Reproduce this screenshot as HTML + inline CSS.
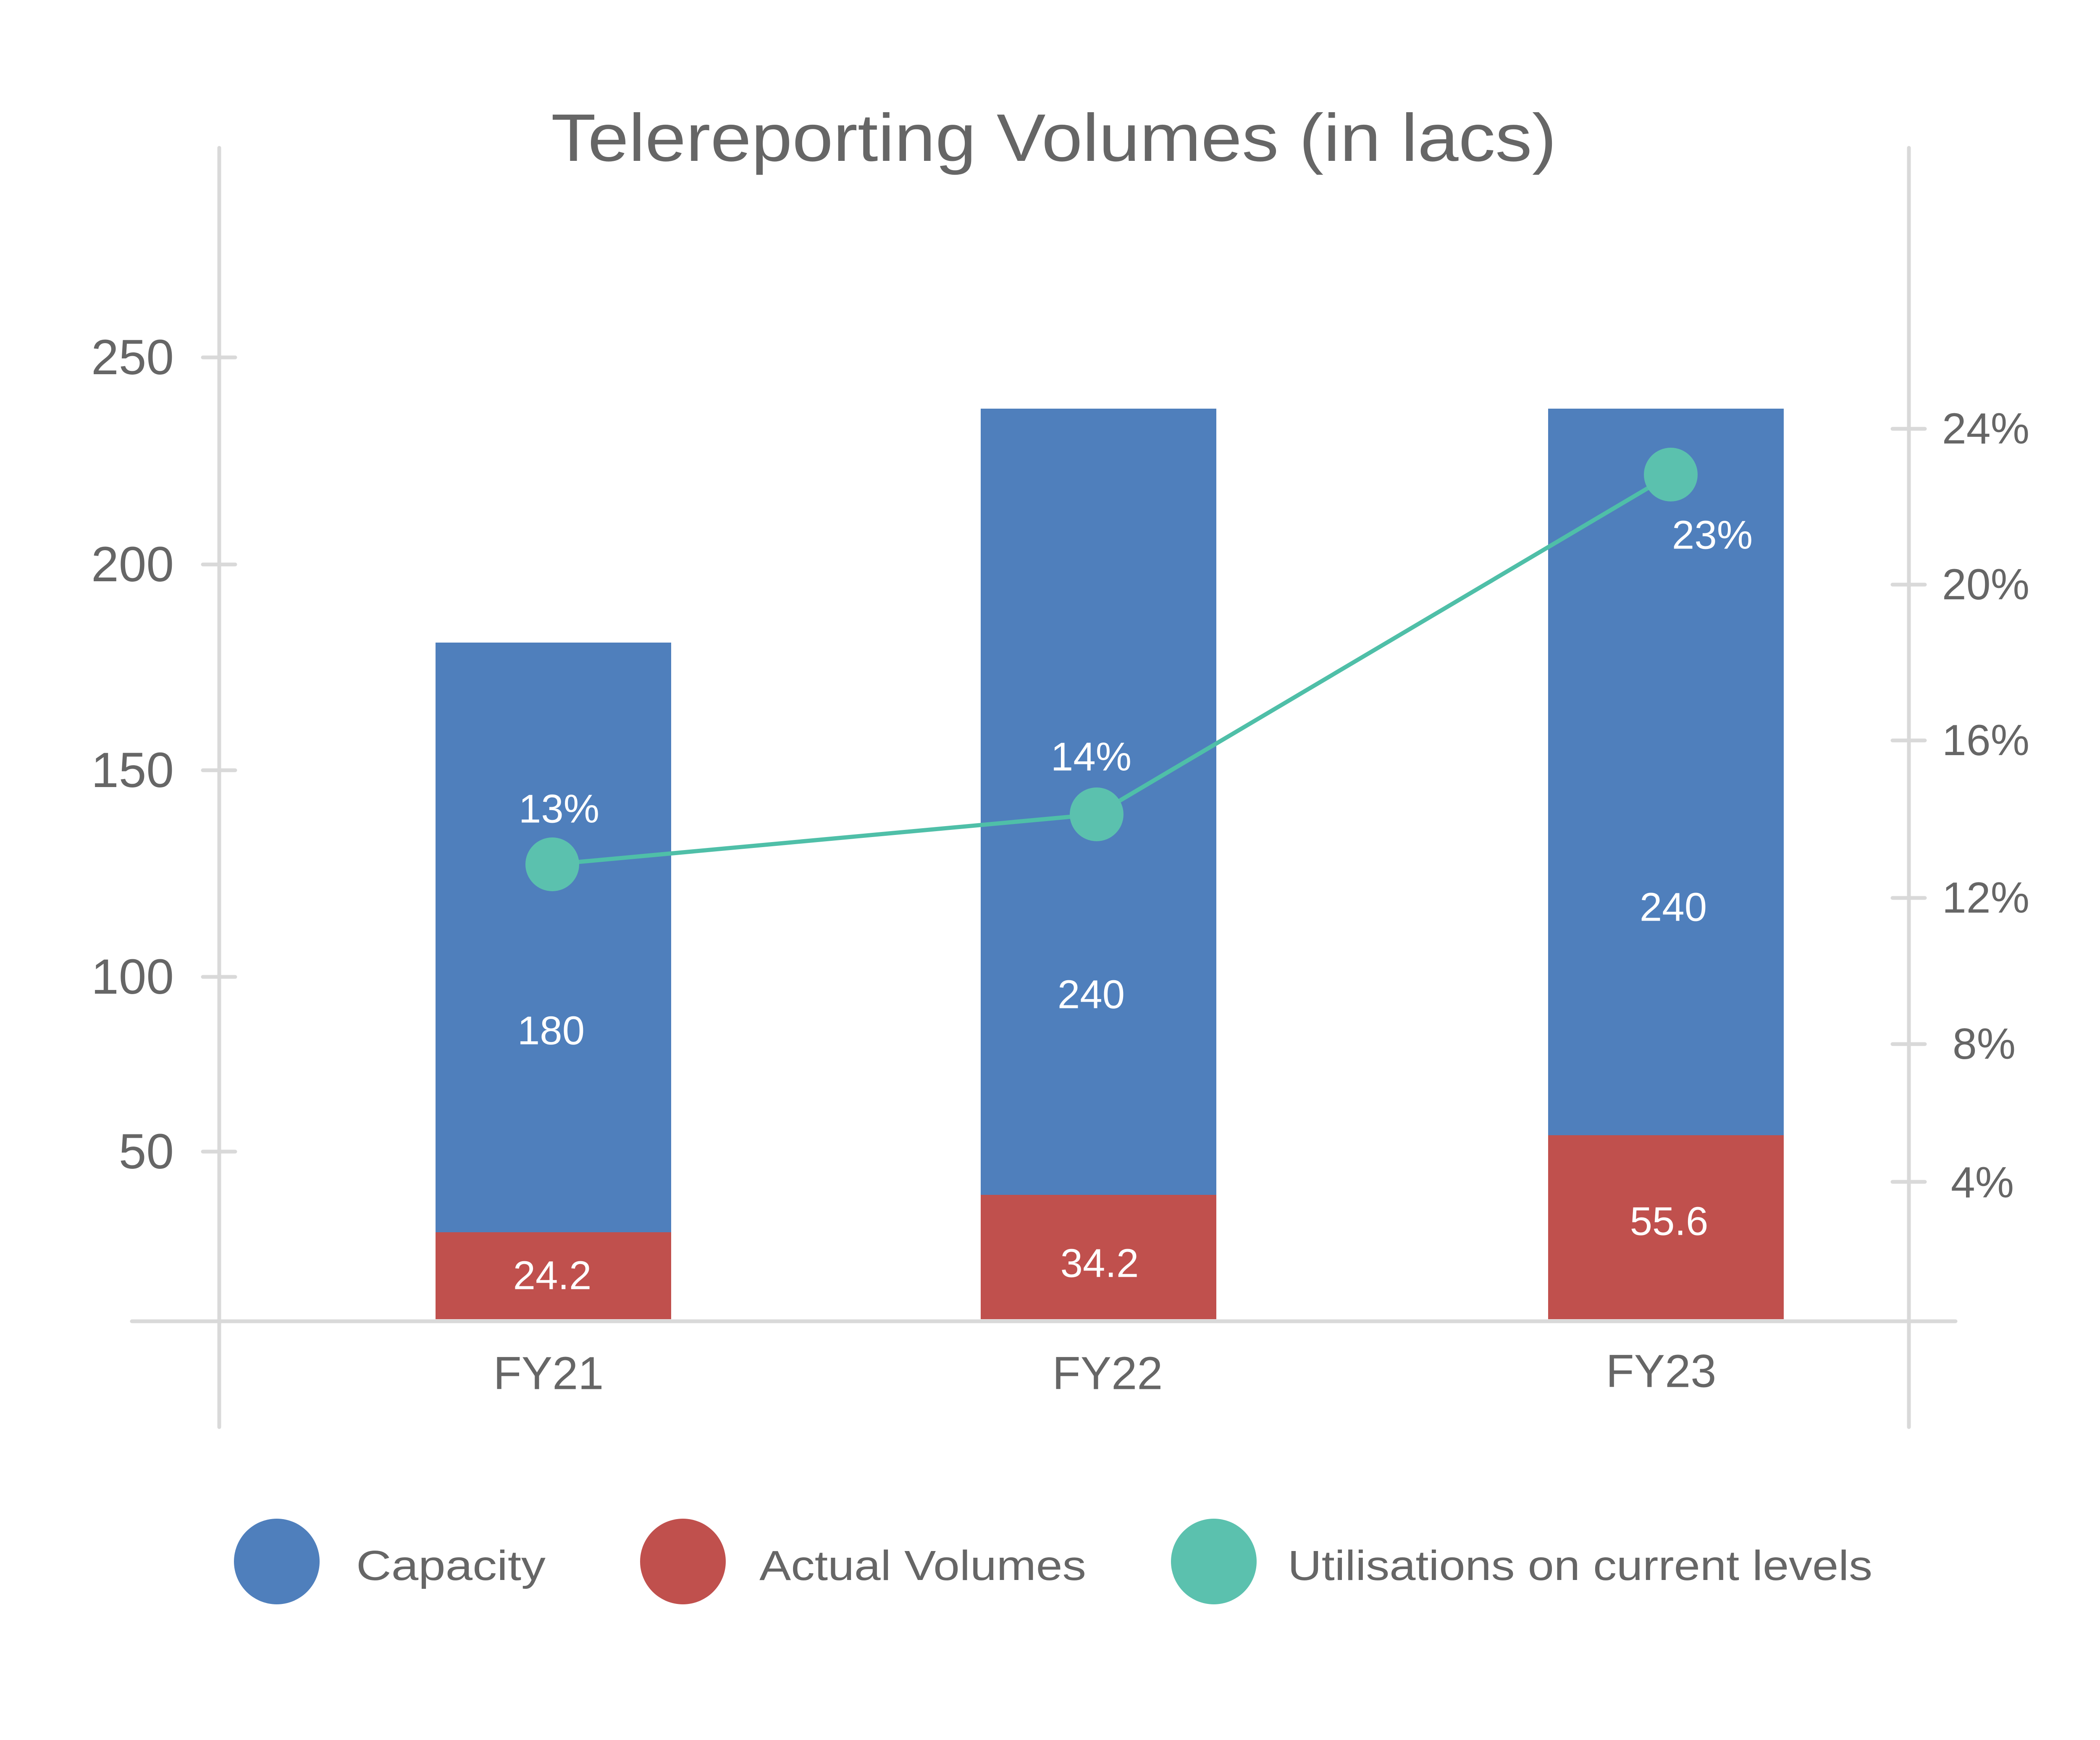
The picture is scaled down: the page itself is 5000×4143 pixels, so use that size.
<!DOCTYPE html>
<html><head><meta charset="utf-8"><style>html,body{margin:0;padding:0;background:#fff}svg{display:block}</style></head>
<body>
<svg width="5000" height="4143" viewBox="0 0 5000 4143" xmlns="http://www.w3.org/2000/svg" font-family="'Liberation Sans', sans-serif">
<rect width="5000" height="4143" fill="#fff"/>
<text x="2509" y="383" font-size="160" fill="#666" text-anchor="middle" textLength="2394" lengthAdjust="spacingAndGlyphs">Telereporting Volumes  (in lacs)</text>
<g stroke="#d9d9d9" stroke-width="9" stroke-linecap="round">
<line x1="522" y1="352" x2="522" y2="3398"/>
<line x1="4545" y1="352" x2="4545" y2="3398"/>
<line x1="314" y1="3146" x2="4656" y2="3146"/>
<line x1="483" y1="851" x2="560" y2="851"/>
<line x1="483" y1="1344" x2="560" y2="1344"/>
<line x1="483" y1="1834" x2="560" y2="1834"/>
<line x1="483" y1="2326" x2="560" y2="2326"/>
<line x1="483" y1="2742" x2="560" y2="2742"/>
<line x1="4506" y1="1021" x2="4583" y2="1021"/>
<line x1="4506" y1="1392" x2="4583" y2="1392"/>
<line x1="4506" y1="1763" x2="4583" y2="1763"/>
<line x1="4506" y1="2138" x2="4583" y2="2138"/>
<line x1="4506" y1="2486" x2="4583" y2="2486"/>
<line x1="4506" y1="2814" x2="4583" y2="2814"/>
</g>
<g font-size="118" fill="#666" text-anchor="end" dominant-baseline="central">
<text x="414" y="851">250</text><text x="414" y="1344">200</text><text x="414" y="1834">150</text><text x="414" y="2326">100</text><text x="414" y="2742">50</text>
</g>
<g font-size="104" fill="#666" text-anchor="middle" dominant-baseline="central">
<text x="4728" y="1021">24%</text><text x="4728" y="1392">20%</text><text x="4728" y="1763">16%</text><text x="4728" y="2138">12%</text><text x="4724" y="2486">8%</text><text x="4720" y="2816">4%</text>
</g>
<rect x="1037" y="1530" width="561" height="1404" fill="#4f7fbc"/>
<rect x="1037" y="2934" width="561" height="207" fill="#c0504d"/>
<rect x="2335" y="973" width="561" height="1872" fill="#4f7fbc"/>
<rect x="2335" y="2845" width="561" height="296" fill="#c0504d"/>
<rect x="3686" y="973" width="561" height="1730" fill="#4f7fbc"/>
<rect x="3686" y="2703" width="561" height="438" fill="#c0504d"/>
<g font-size="96" fill="#fff" text-anchor="middle" dominant-baseline="central">
<text x="1312" y="2454">180</text><text x="1315" y="3037">24.2</text>
<text x="2598" y="2368">240</text><text x="2618" y="3008">34.2</text>
<text x="3984" y="2160">240</text><text x="3974" y="2908">55.6</text>
<text x="1331" y="1926">13%</text><text x="2598" y="1802">14%</text><text x="4077" y="1274">23%</text>
</g>
<polyline points="1315,2058 2611,1939 3978,1130" fill="none" stroke="#4fbfa8" stroke-width="10"/>
<g fill="#5bc1ae">
<circle cx="1315" cy="2058" r="64"/><circle cx="2611" cy="1939" r="64"/><circle cx="3978" cy="1130" r="64"/>
</g>
<g font-size="110" fill="#666" text-anchor="middle" dominant-baseline="central">
<text x="1306" y="3270">FY21</text><text x="2637" y="3270">FY22</text><text x="3955" y="3265">FY23</text>
</g>
<circle cx="659" cy="3718" r="102" fill="#4f7fbc"/>
<circle cx="1626" cy="3718" r="102" fill="#c0504d"/>
<circle cx="2890" cy="3718" r="102" fill="#5bc1ae"/>
<g font-size="100" fill="#666" dominant-baseline="central">
<text x="848" y="3728" textLength="451" lengthAdjust="spacingAndGlyphs">Capacity</text>
<text x="1808" y="3728" textLength="778" lengthAdjust="spacingAndGlyphs">Actual Volumes</text>
<text x="3066" y="3728" textLength="1392" lengthAdjust="spacingAndGlyphs">Utilisations on current levels</text>
</g>
</svg>
</body></html>
